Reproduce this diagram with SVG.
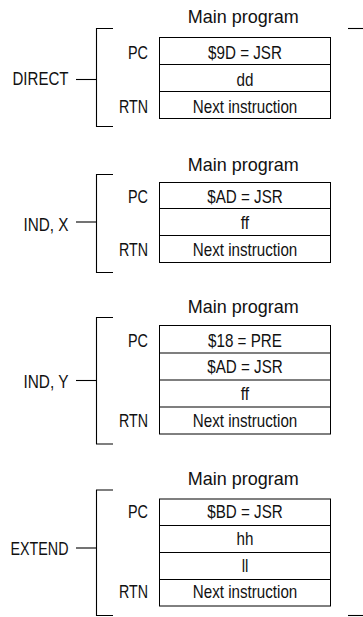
<svg xmlns="http://www.w3.org/2000/svg" width="363" height="617" viewBox="0 0 363 617">
<style>
text{font-family:"Liberation Sans",Arial,sans-serif;font-size:18.5px;fill:#111;}
.c{text-anchor:middle;}
.e{text-anchor:end;}
.box{fill:#fff;stroke:#000;stroke-width:1;}
.ln{fill:none;stroke:#000;stroke-width:1.1;}
</style>
<rect width="363" height="617" fill="#fff"/>

<g id="direct">
  <text class="c" x="243.3" y="23" textLength="111" lengthAdjust="spacingAndGlyphs">Main program</text>
  <text class="e" x="68.5" y="85" textLength="56" lengthAdjust="spacingAndGlyphs">DIRECT</text>
  <path class="ln" d="M113,28.5 H96.5 V126.5 H113"/>
  <g id="direct-mem">
    <rect class="box" x="159.5" y="37.5" width="171" height="81"/>
    <path class="ln" d="M159.5,64.5 H330.5 M159.5,91.5 H330.5"/>
    <text class="c" x="245" y="59" textLength="73.8" lengthAdjust="spacingAndGlyphs">$9D = JSR</text>
    <text class="c" x="245" y="85.5" textLength="16.9" lengthAdjust="spacingAndGlyphs">dd</text>
    <text class="c" x="245" y="112.7" textLength="104.5" lengthAdjust="spacingAndGlyphs">Next instruction</text>
  </g>
  <text class="e" x="148" y="59" textLength="20" lengthAdjust="spacingAndGlyphs">PC</text>
  <text class="e" x="148" y="112.7" textLength="29" lengthAdjust="spacingAndGlyphs">RTN</text>
</g>

<g id="indx">
  <text class="c" x="243.3" y="170.5" textLength="111" lengthAdjust="spacingAndGlyphs">Main program</text>
  <text class="e" x="68.5" y="231" textLength="45" lengthAdjust="spacingAndGlyphs">IND, X</text>
  <path class="ln" d="M113,174.5 H96.5 V272.5 H113"/>
  <g id="indx-mem">
    <rect class="box" x="159.5" y="182.5" width="171" height="80"/>
    <path class="ln" d="M159.5,208.5 H330.5 M159.5,235.5 H330.5"/>
    <text class="c" x="245" y="202.7" textLength="75.5" lengthAdjust="spacingAndGlyphs">$AD = JSR</text>
    <text class="c" x="245" y="229" textLength="8.4" lengthAdjust="spacingAndGlyphs">ff</text>
    <text class="c" x="245" y="256" textLength="104.5" lengthAdjust="spacingAndGlyphs">Next instruction</text>
  </g>
  <text class="e" x="148" y="202.7" textLength="20" lengthAdjust="spacingAndGlyphs">PC</text>
  <text class="e" x="148" y="256" textLength="29" lengthAdjust="spacingAndGlyphs">RTN</text>
</g>

<g id="indy">
  <text class="c" x="243.3" y="313.3" textLength="111" lengthAdjust="spacingAndGlyphs">Main program</text>
  <text class="e" x="68.5" y="388.3" textLength="45" lengthAdjust="spacingAndGlyphs">IND, Y</text>
  <path class="ln" d="M113,317.5 H96.5 V444 H113"/>
  <g id="indy-mem">
    <rect class="box" x="159.5" y="325.5" width="171" height="108.5"/>
    <path class="ln" d="M159.5,353 H330.5 M159.5,380 H330.5 M159.5,407 H330.5"/>
    <text class="c" x="245" y="346.7" textLength="73.8" lengthAdjust="spacingAndGlyphs">$18 = PRE</text>
    <text class="c" x="245" y="373.3" textLength="75.5" lengthAdjust="spacingAndGlyphs">$AD = JSR</text>
    <text class="c" x="245" y="400" textLength="8.4" lengthAdjust="spacingAndGlyphs">ff</text>
    <text class="c" x="245" y="426.7" textLength="104.5" lengthAdjust="spacingAndGlyphs">Next instruction</text>
  </g>
  <text class="e" x="148" y="346.7" textLength="20" lengthAdjust="spacingAndGlyphs">PC</text>
  <text class="e" x="148" y="426.7" textLength="29" lengthAdjust="spacingAndGlyphs">RTN</text>
</g>

<g id="extend">
  <text class="c" x="243.3" y="485" textLength="111" lengthAdjust="spacingAndGlyphs">Main program</text>
  <text class="e" x="68.5" y="555" textLength="58" lengthAdjust="spacingAndGlyphs">EXTEND</text>
  <path class="ln" d="M113,490 H96.5 V615.5 H113"/>
  <g id="extend-mem">
    <rect class="box" x="159.5" y="499" width="171" height="107"/>
    <path class="ln" d="M159.5,525.5 H330.5 M159.5,552.5 H330.5 M159.5,579.5 H330.5"/>
    <text class="c" x="245" y="518.3" textLength="75.5" lengthAdjust="spacingAndGlyphs">$BD = JSR</text>
    <text class="c" x="245" y="545" textLength="16.9" lengthAdjust="spacingAndGlyphs">hh</text>
    <text class="c" x="245" y="571.7" textLength="6.7" lengthAdjust="spacingAndGlyphs">ll</text>
    <text class="c" x="245" y="598.3" textLength="104.5" lengthAdjust="spacingAndGlyphs">Next instruction</text>
  </g>
  <text class="e" x="148" y="518.3" textLength="20" lengthAdjust="spacingAndGlyphs">PC</text>
  <text class="e" x="148" y="598.3" textLength="29" lengthAdjust="spacingAndGlyphs">RTN</text>
</g>

<g id="connectors">
  <path class="ln" d="M76,79.5 H96.5"/>
  <path class="ln" d="M76,222 H96.5"/>
  <path class="ln" d="M76,380.5 H96.5"/>
  <path class="ln" d="M76,548 H96.5"/>
  <path class="ln" d="M348,28.5 H363"/>
  <path class="ln" d="M348,615.5 H363"/>
</g>
</svg>
